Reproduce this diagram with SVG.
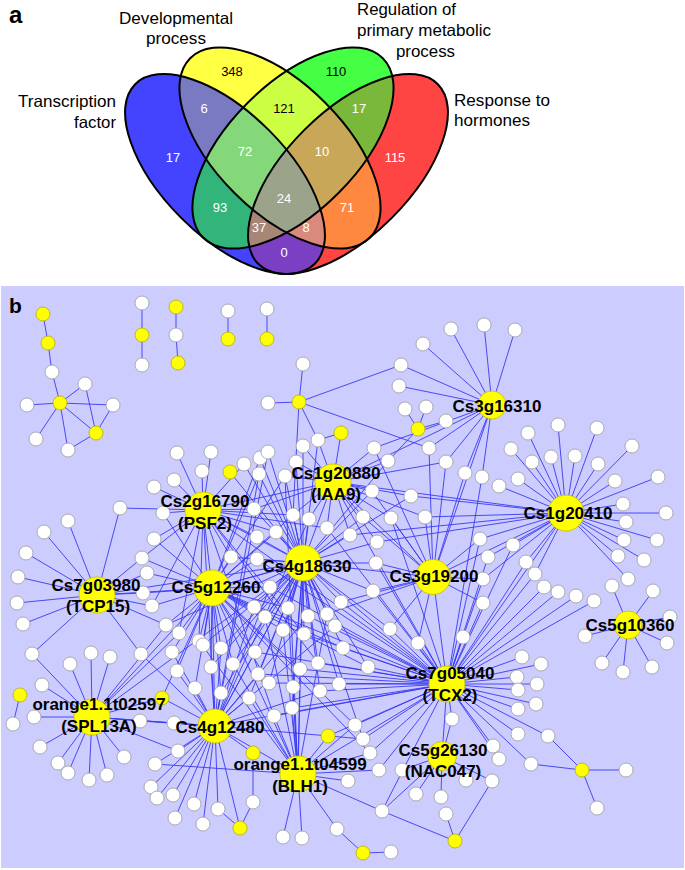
<svg xmlns="http://www.w3.org/2000/svg" xmlns:xlink="http://www.w3.org/1999/xlink" width="685" height="870" viewBox="0 0 685 870">
<style>
.e{stroke:#3a3af2;stroke-width:0.9;fill:none}
.w{fill:#fff;stroke:#9a9a9a;stroke-width:0.8}
.y{fill:#ffff00;stroke:#b0b000;stroke-width:0.8}
.h{fill:#ffff00;stroke:#c0c000;stroke-width:0.8}
.lb{font-family:"Liberation Sans",Arial,sans-serif;font-weight:bold;font-size:17px;text-anchor:middle;fill:#000}
.vl{font-family:"Liberation Sans",Arial,sans-serif;font-size:16.5px;fill:#000}
.vn{font-family:"Liberation Sans",Arial,sans-serif;font-size:13px;text-anchor:middle}
.wt{fill:#fff}
.bk{fill:#000}
.ol{fill:none;stroke:#000;stroke-width:2}
.pl{font-family:"Liberation Sans",Arial,sans-serif;font-weight:bold;fill:#000}
</style>
<defs>
<ellipse id="eA" cx="225" cy="174" rx="127" ry="62" transform="rotate(45 225 174)"/>
<ellipse id="eB" cx="280" cy="148" rx="127" ry="64" transform="rotate(45 280 148)"/>
<ellipse id="eC" cx="293" cy="148" rx="127" ry="64" transform="rotate(-45 293 148)"/>
<ellipse id="eD" cx="348" cy="174" rx="127" ry="62" transform="rotate(-45 348 174)"/>
<clipPath id="cA"><use href="#eA"/></clipPath>
<clipPath id="cB"><use href="#eB"/></clipPath>
<clipPath id="cC"><use href="#eC"/></clipPath>
</defs>
<rect width="685" height="870" fill="#fff"/>
<!-- Panel a -->
<g id="panel-a">
<text class="pl" font-size="24" x="9" y="23">a</text>
<g id="venn">
<use href="#eA" fill="#4444ff"/>
<use href="#eB" fill="#ffff44"/>
<use href="#eC" fill="#44ff44"/>
<use href="#eD" fill="#ff4444"/>
<g clip-path="url(#cA)"><use href="#eB" fill="#7a7ac2"/><use href="#eC" fill="#32b47a"/><use href="#eD" fill="#7b3fc4"/></g>
<g clip-path="url(#cB)"><use href="#eC" fill="#ccff44"/><use href="#eD" fill="#ff8840"/></g>
<g clip-path="url(#cC)"><use href="#eD" fill="#7ab83c"/></g>
<g clip-path="url(#cA)"><g clip-path="url(#cB)"><use href="#eC" fill="#84d879"/><use href="#eD" fill="#d98a7c"/></g><g clip-path="url(#cC)"><use href="#eD" fill="#a88676"/></g></g>
<g clip-path="url(#cB)"><g clip-path="url(#cC)"><use href="#eD" fill="#c8a858"/></g></g>
<g clip-path="url(#cA)"><g clip-path="url(#cB)"><g clip-path="url(#cC)"><use href="#eD" fill="#9ba38a"/></g></g></g>
<use href="#eA" class="ol"/>
<use href="#eB" class="ol"/>
<use href="#eC" class="ol"/>
<use href="#eD" class="ol"/>
</g>
<g id="venn-labels">
<text class="vl" x="119" y="24" textLength="114" lengthAdjust="spacingAndGlyphs">Developmental</text>
<text class="vl" x="146" y="44" textLength="60" lengthAdjust="spacingAndGlyphs">process</text>
<text class="vl" x="357" y="15" textLength="99" lengthAdjust="spacingAndGlyphs">Regulation of</text>
<text class="vl" x="357" y="36" textLength="134" lengthAdjust="spacingAndGlyphs">primary metabolic</text>
<text class="vl" x="396" y="57" textLength="59" lengthAdjust="spacingAndGlyphs">process</text>
<text class="vl" x="18" y="107" textLength="98" lengthAdjust="spacingAndGlyphs">Transcription</text>
<text class="vl" x="74" y="128" textLength="42" lengthAdjust="spacingAndGlyphs">factor</text>
<text class="vl" x="454" y="106" textLength="96" lengthAdjust="spacingAndGlyphs">Response to</text>
<text class="vl" x="454" y="126" textLength="76" lengthAdjust="spacingAndGlyphs">hormones</text>
</g>
<g id="venn-counts">
<text class="vn bk" x="232" y="75.7">348</text>
<text class="vn bk" x="336" y="75.7">110</text>
<text class="vn wt" x="204" y="112.7">6</text>
<text class="vn bk" x="284" y="112.7">121</text>
<text class="vn wt" x="359" y="112.7">17</text>
<text class="vn wt" x="173" y="161.7">17</text>
<text class="vn wt" x="245" y="155.7">72</text>
<text class="vn wt" x="322" y="155.7">10</text>
<text class="vn wt" x="395" y="161.7">115</text>
<text class="vn wt" x="220" y="211.7">93</text>
<text class="vn wt" x="284" y="202.7">24</text>
<text class="vn wt" x="347" y="211.7">71</text>
<text class="vn wt" x="259" y="231.7">37</text>
<text class="vn wt" x="306" y="231.7">8</text>
<text class="vn wt" x="284" y="256.7">0</text>
</g>
</g>
<!-- Panel b -->
<rect x="1" y="286" width="683" height="582" fill="#ccccff"/>
<text class="pl" font-size="21" x="9" y="313">b</text>
<g id="connectors" class="e">
<path d="M43,314L48,343L52,372L60,403M60,403L85,384L96,433M60,403L27,405M60,403L113,405L96,433M60,403L96,433M60,403L36,439M60,403L68,450L96,433M142,303L142,365M176,307L176,335L178,363M228,311L228,339M267,309L267,339"/>
<path d="M299,402L303,364M299,402L268,403M299,402L401,365M299,402L429,448M299,402L318,440M299,402L293,515M341,433L318,440M341,433L333,482M418,429L405,409M418,429L426,407M418,429L446,421M418,429L388,461"/>
<path d="M492,405L451,329M492,405L484,325M492,405L515,330M492,405L423,344M492,405L401,365M492,405L399,386M492,405L374,448M492,405L429,448M492,405L446,462M492,405L465,473M492,405L482,477M492,405L333,482M492,405L433,577"/>
<path d="M566,513L528,433M566,513L558,425M566,513L597,428M566,513L632,446M566,513L511,449M566,513L532,462M566,513L551,457M566,513L575,456M566,513L598,464M566,513L518,479M566,513L499,486M566,513L615,481M566,513L658,477M566,513L623,504M566,513L666,513M566,513L626,522M566,513L624,540M566,513L657,540M566,513L618,556M566,513L644,560M566,513L628,579M566,513L535,574M566,513L480,539M566,513L488,557M566,513L513,545M566,513L526,562M566,513L411,496M566,513L425,517M566,513L350,535M566,513L377,542M566,513L333,482M566,513L433,577M566,513L447,684M566,513L483,579"/>
<path d="M628,625L612,586M628,625L653,591M628,625L670,617M628,625L667,643M628,625L652,667M628,625L623,672M628,625L602,663M628,625L585,636"/>
<path d="M447,684L535,574M447,684L544,587M447,684L558,592M447,684L576,596M447,684L594,601M447,684L522,657M447,684L541,664M447,684L517,677M447,684L537,684M447,684L518,690M447,684L536,704M447,684L518,709M447,684L518,734M447,684L548,736M447,684L493,746M447,684L499,759M447,684L531,764M447,684L452,719M447,684L483,579M447,684L483,603M447,684L463,637M447,684L488,557M447,684L513,545M447,684L526,562M447,684L482,477M447,684L480,539M447,684L418,643M447,684L390,629M447,684L373,591M447,684L376,563M447,684L391,518M447,684L327,528M447,684L341,602M447,684L343,648M447,684L339,684M447,684L368,667M447,684L320,691M447,684L318,663M447,684L300,669M447,684L292,708M447,684L274,716M447,684L258,674M447,684L269,683M447,684L255,652M447,684L308,616M447,684L335,626M447,684L304,634M447,684L355,725M447,684L363,739M447,684L370,753M447,684L379,770M447,684L328,736M447,684L382,811M447,684L257,559M447,684L270,587M447,684L303,563M447,684L212,588M447,684L203,510M447,684L333,482M447,684L215,726M447,684L298,774M447,684L442,756M447,684L433,577"/>
<path d="M442,756L452,719M442,756L402,770M442,756L466,780M442,756L416,794M442,756L441,797M442,756L382,811M442,756L492,781M582,770L548,736M582,770L531,764M582,770L626,770M582,770L597,808M455,841L446,814M455,841L382,811M455,841L492,781M363,853L391,852M363,853L337,829M240,828L218,809M240,828L253,802L253,753M20,695L13,724"/>
<path d="M298,774L283,837M298,774L302,838M298,774L337,829M298,774L382,811M298,774L348,781M298,774L379,770M298,774L155,764M298,774L328,736M298,774L292,708M298,774L274,716M298,774L249,698M298,774L293,687M298,774L300,669M298,774L233,664M298,774L199,641M298,774L265,617M298,774L283,630M298,774L288,608M298,774L285,476M298,774L327,614M298,774L370,753M298,774L355,725M298,774L215,726M298,774L303,563M298,774L212,588"/>
<path d="M215,726L151,787M215,726L157,798M215,726L173,795M215,726L175,818M215,726L194,804M215,726L203,824M215,726L218,809M215,726L155,764M215,726L178,751M215,726L174,723M215,726L140,721M215,726L240,828M215,726L253,753M215,726L162,698M215,726L141,654M215,726L172,652M215,726L177,671M215,726L211,667M215,726L195,688M215,726L221,693M215,726L249,698M215,726L221,648M215,726L255,652M215,726L258,674M215,726L309,519M215,726L268,452M215,726L259,474M215,726L254,607M215,726L270,587M215,726L308,616M215,726L335,626M215,726L320,691M215,726L363,739M215,726L203,510M215,726L303,563M215,726L212,588"/>
<path d="M92,717L70,664M92,717L91,653M92,717L110,657M92,717L42,685M92,717L34,717M92,717L40,747M92,717L58,763M92,717L68,773M92,717L89,780M92,717L107,775M92,717L124,757M92,717L140,721M92,717L32,654M92,717L162,698M92,717L174,723M92,717L178,751M92,717L166,625M92,717L179,633M92,717L303,563M92,717L212,588M92,717L215,726"/>
<path d="M97,595L120,508M97,595L68,521M97,595L44,532M97,595L26,553M97,595L18,577M97,595L17,603M97,595L23,624M97,595L32,654M97,595L141,654M97,595L147,573M97,595L143,593M97,595L152,606M97,595L166,625M97,595L142,558M97,595L303,563M97,595L212,588"/>
<path d="M203,510L177,453M203,510L211,452M203,510L202,471M203,510L174,480M203,510L154,487M203,510L244,464M203,510L120,508M203,510L163,513M203,510L254,509M203,510L293,515M203,510L327,528M203,510L276,532M203,510L257,537M203,510L231,557M203,510L154,539M203,510L142,558M203,510L152,606M203,510L179,633M203,510L199,641M203,510L304,634M203,510L318,663M203,510L274,716M203,510L333,482M203,510L303,563M203,510L212,588"/>
<path d="M333,482L303,446M333,482L318,440M333,482L296,462M333,482L374,448M333,482L388,461M333,482L446,462M333,482L372,491M333,482L411,496M333,482L363,517M333,482L391,518M333,482L425,517M333,482L350,535M333,482L377,542M333,482L254,509M333,482L293,515M333,482L309,519M333,482L327,528M333,482L285,476M333,482L303,563M333,482L433,577"/>
<path d="M303,563L230,472M303,563L244,464M303,563L260,458M303,563L268,452M303,563L259,474M303,563L285,476M303,563L296,462M303,563L303,446M303,563L318,440M303,563L254,509M303,563L293,515M303,563L309,519M303,563L276,532M303,563L257,537M303,563L231,557M303,563L257,559M303,563L270,587M303,563L254,607M303,563L288,608M303,563L341,602M303,563L388,461M303,563L372,491M303,563L411,496M303,563L363,517M303,563L350,535M303,563L376,563M303,563L373,591M303,563L166,625M303,563L203,645M303,563L221,648M303,563L255,652M303,563L265,617M303,563L308,616M303,563L327,614M303,563L335,626M303,563L283,630M303,563L304,634M303,563L343,648M303,563L211,667M303,563L233,664M303,563L258,674M303,563L269,683M303,563L300,669M303,563L318,663M303,563L293,687M303,563L320,691M303,563L339,684M303,563L221,693M303,563L249,698M303,563L292,708M303,563L390,629M303,563L368,667M303,563L363,739M303,563L212,588"/>
<path d="M212,588L260,458M212,588L259,474M212,588L285,476M212,588L163,513M212,588L293,515M212,588L276,532M212,588L154,539M212,588L142,558M212,588L147,573M212,588L231,557M212,588L257,559M212,588L270,587M212,588L254,607M212,588L288,608M212,588L377,542M212,588L152,606M212,588L143,593M212,588L166,625M212,588L179,633M212,588L199,641M212,588L203,645M212,588L172,652M212,588L221,648M212,588L255,652M212,588L265,617M212,588L283,630M212,588L343,648M212,588L177,671M212,588L211,667M212,588L233,664M212,588L269,683M212,588L300,669M212,588L195,688M212,588L221,693M212,588L162,698M212,588L368,667M212,588L355,725M212,588L370,753"/>
<path d="M433,577L374,448M433,577L429,448M433,577L446,462M433,577L465,473M433,577L372,491M433,577L363,517M433,577L391,518M433,577L425,517M433,577L376,563M433,577L373,591M433,577L341,602M433,577L480,539M433,577L483,579M433,577L483,603M433,577L390,629M433,577L418,643M433,577L327,614M433,577L303,563"/>
</g>
<g id="small-nodes">
<g id="n1"><circle class="y" cx="43" cy="314" r="7"/></g>
<g id="n2"><circle class="y" cx="48" cy="343" r="7"/></g>
<g id="n3"><circle class="w" cx="52" cy="372" r="7"/></g>
<g id="n4"><circle class="w" cx="85" cy="384" r="7"/></g>
<g id="n5"><circle class="y" cx="60" cy="403" r="7"/></g>
<g id="n6"><circle class="w" cx="27" cy="405" r="7"/></g>
<g id="n7"><circle class="w" cx="113" cy="405" r="7"/></g>
<g id="n8"><circle class="y" cx="96" cy="433" r="7"/></g>
<g id="n9"><circle class="w" cx="36" cy="439" r="7"/></g>
<g id="n10"><circle class="w" cx="68" cy="450" r="7"/></g>
<g id="n11"><circle class="w" cx="142" cy="303" r="7"/></g>
<g id="n12"><circle class="y" cx="142" cy="335" r="7"/></g>
<g id="n13"><circle class="w" cx="142" cy="365" r="7"/></g>
<g id="n14"><circle class="y" cx="176" cy="307" r="7"/></g>
<g id="n15"><circle class="w" cx="176" cy="335" r="7"/></g>
<g id="n16"><circle class="y" cx="178" cy="363" r="7"/></g>
<g id="n17"><circle class="w" cx="228" cy="311" r="7"/></g>
<g id="n18"><circle class="y" cx="228" cy="339" r="7"/></g>
<g id="n19"><circle class="w" cx="267" cy="309" r="7"/></g>
<g id="n20"><circle class="y" cx="267" cy="339" r="7"/></g>
<g id="n21"><circle class="w" cx="303" cy="364" r="7"/></g>
<g id="n22"><circle class="y" cx="299" cy="402" r="7"/></g>
<g id="n23"><circle class="w" cx="268" cy="403" r="7"/></g>
<g id="n24"><circle class="y" cx="341" cy="433" r="7"/></g>
<g id="n25"><circle class="y" cx="418" cy="429" r="7"/></g>
<g id="n26"><circle class="w" cx="405" cy="409" r="7"/></g>
<g id="n27"><circle class="w" cx="426" cy="407" r="7"/></g>
<g id="n28"><circle class="w" cx="446" cy="421" r="7"/></g>
<g id="n29"><circle class="w" cx="451" cy="329" r="7"/></g>
<g id="n30"><circle class="w" cx="484" cy="325" r="7"/></g>
<g id="n31"><circle class="w" cx="515" cy="330" r="7"/></g>
<g id="n32"><circle class="w" cx="423" cy="344" r="7"/></g>
<g id="n33"><circle class="w" cx="401" cy="365" r="7"/></g>
<g id="n34"><circle class="w" cx="399" cy="386" r="7"/></g>
<g id="n35"><circle class="w" cx="528" cy="433" r="7"/></g>
<g id="n36"><circle class="w" cx="558" cy="425" r="7"/></g>
<g id="n37"><circle class="w" cx="597" cy="428" r="7"/></g>
<g id="n38"><circle class="w" cx="632" cy="446" r="7"/></g>
<g id="n39"><circle class="w" cx="511" cy="449" r="7"/></g>
<g id="n40"><circle class="w" cx="532" cy="462" r="7"/></g>
<g id="n41"><circle class="w" cx="551" cy="457" r="7"/></g>
<g id="n42"><circle class="w" cx="575" cy="456" r="7"/></g>
<g id="n43"><circle class="w" cx="598" cy="464" r="7"/></g>
<g id="n44"><circle class="w" cx="518" cy="479" r="7"/></g>
<g id="n45"><circle class="w" cx="499" cy="486" r="7"/></g>
<g id="n46"><circle class="w" cx="615" cy="481" r="7"/></g>
<g id="n47"><circle class="w" cx="658" cy="477" r="7"/></g>
<g id="n48"><circle class="w" cx="623" cy="504" r="7"/></g>
<g id="n49"><circle class="w" cx="666" cy="513" r="7"/></g>
<g id="n50"><circle class="w" cx="626" cy="522" r="7"/></g>
<g id="n51"><circle class="w" cx="624" cy="540" r="7"/></g>
<g id="n52"><circle class="w" cx="657" cy="540" r="7"/></g>
<g id="n53"><circle class="w" cx="618" cy="556" r="7"/></g>
<g id="n54"><circle class="w" cx="644" cy="560" r="7"/></g>
<g id="n55"><circle class="w" cx="628" cy="579" r="7"/></g>
<g id="n56"><circle class="w" cx="612" cy="586" r="7"/></g>
<g id="n57"><circle class="w" cx="653" cy="591" r="7"/></g>
<g id="n58"><circle class="w" cx="670" cy="617" r="7"/></g>
<g id="n59"><circle class="w" cx="667" cy="643" r="7"/></g>
<g id="n60"><circle class="w" cx="652" cy="667" r="7"/></g>
<g id="n61"><circle class="w" cx="623" cy="672" r="7"/></g>
<g id="n62"><circle class="w" cx="602" cy="663" r="7"/></g>
<g id="n63"><circle class="w" cx="585" cy="636" r="7"/></g>
<g id="n64"><circle class="w" cx="535" cy="574" r="7"/></g>
<g id="n65"><circle class="w" cx="544" cy="587" r="7"/></g>
<g id="n66"><circle class="w" cx="558" cy="592" r="7"/></g>
<g id="n67"><circle class="w" cx="576" cy="596" r="7"/></g>
<g id="n68"><circle class="w" cx="594" cy="601" r="7"/></g>
<g id="n69"><circle class="w" cx="522" cy="657" r="7"/></g>
<g id="n70"><circle class="w" cx="541" cy="664" r="7"/></g>
<g id="n71"><circle class="w" cx="517" cy="677" r="7"/></g>
<g id="n72"><circle class="w" cx="537" cy="684" r="7"/></g>
<g id="n73"><circle class="w" cx="518" cy="690" r="7"/></g>
<g id="n74"><circle class="w" cx="536" cy="704" r="7"/></g>
<g id="n75"><circle class="w" cx="518" cy="709" r="7"/></g>
<g id="n76"><circle class="w" cx="518" cy="734" r="7"/></g>
<g id="n77"><circle class="w" cx="548" cy="736" r="7"/></g>
<g id="n78"><circle class="w" cx="493" cy="746" r="7"/></g>
<g id="n79"><circle class="w" cx="499" cy="759" r="7"/></g>
<g id="n80"><circle class="w" cx="531" cy="764" r="7"/></g>
<g id="n81"><circle class="w" cx="452" cy="719" r="7"/></g>
<g id="n82"><circle class="y" cx="582" cy="770" r="7"/></g>
<g id="n83"><circle class="w" cx="626" cy="770" r="7"/></g>
<g id="n84"><circle class="w" cx="597" cy="808" r="7"/></g>
<g id="n85"><circle class="w" cx="402" cy="770" r="7"/></g>
<g id="n86"><circle class="w" cx="466" cy="780" r="7"/></g>
<g id="n87"><circle class="w" cx="416" cy="794" r="7"/></g>
<g id="n88"><circle class="w" cx="441" cy="797" r="7"/></g>
<g id="n89"><circle class="w" cx="492" cy="781" r="7"/></g>
<g id="n90"><circle class="w" cx="446" cy="814" r="7"/></g>
<g id="n91"><circle class="y" cx="455" cy="841" r="7"/></g>
<g id="n92"><circle class="w" cx="382" cy="811" r="7"/></g>
<g id="n93"><circle class="y" cx="363" cy="853" r="7"/></g>
<g id="n94"><circle class="w" cx="391" cy="852" r="7"/></g>
<g id="n95"><circle class="w" cx="337" cy="829" r="7"/></g>
<g id="n96"><circle class="w" cx="283" cy="837" r="7"/></g>
<g id="n97"><circle class="w" cx="302" cy="838" r="7"/></g>
<g id="n98"><circle class="w" cx="348" cy="781" r="7"/></g>
<g id="n99"><circle class="w" cx="379" cy="770" r="7"/></g>
<g id="n100"><circle class="w" cx="355" cy="725" r="7"/></g>
<g id="n101"><circle class="w" cx="363" cy="739" r="7"/></g>
<g id="n102"><circle class="w" cx="370" cy="753" r="7"/></g>
<g id="n103"><circle class="y" cx="328" cy="736" r="7"/></g>
<g id="n104"><circle class="w" cx="390" cy="629" r="7"/></g>
<g id="n105"><circle class="w" cx="418" cy="643" r="7"/></g>
<g id="n106"><circle class="w" cx="463" cy="637" r="7"/></g>
<g id="n107"><circle class="w" cx="368" cy="667" r="7"/></g>
<g id="n108"><circle class="w" cx="374" cy="448" r="7"/></g>
<g id="n109"><circle class="w" cx="388" cy="461" r="7"/></g>
<g id="n110"><circle class="w" cx="429" cy="448" r="7"/></g>
<g id="n111"><circle class="w" cx="446" cy="462" r="7"/></g>
<g id="n112"><circle class="w" cx="465" cy="473" r="7"/></g>
<g id="n113"><circle class="w" cx="482" cy="477" r="7"/></g>
<g id="n114"><circle class="w" cx="372" cy="491" r="7"/></g>
<g id="n115"><circle class="w" cx="411" cy="496" r="7"/></g>
<g id="n116"><circle class="w" cx="363" cy="517" r="7"/></g>
<g id="n117"><circle class="w" cx="391" cy="518" r="7"/></g>
<g id="n118"><circle class="w" cx="425" cy="517" r="7"/></g>
<g id="n119"><circle class="w" cx="350" cy="535" r="7"/></g>
<g id="n120"><circle class="w" cx="377" cy="542" r="7"/></g>
<g id="n121"><circle class="w" cx="376" cy="563" r="7"/></g>
<g id="n122"><circle class="w" cx="373" cy="591" r="7"/></g>
<g id="n123"><circle class="w" cx="480" cy="539" r="7"/></g>
<g id="n124"><circle class="w" cx="488" cy="557" r="7"/></g>
<g id="n125"><circle class="w" cx="513" cy="545" r="7"/></g>
<g id="n126"><circle class="w" cx="526" cy="562" r="7"/></g>
<g id="n127"><circle class="w" cx="483" cy="579" r="7"/></g>
<g id="n128"><circle class="w" cx="483" cy="603" r="7"/></g>
<g id="n129"><circle class="w" cx="177" cy="453" r="7"/></g>
<g id="n130"><circle class="w" cx="211" cy="452" r="7"/></g>
<g id="n131"><circle class="w" cx="202" cy="471" r="7"/></g>
<g id="n132"><circle class="w" cx="174" cy="480" r="7"/></g>
<g id="n133"><circle class="w" cx="154" cy="487" r="7"/></g>
<g id="n134"><circle class="y" cx="230" cy="472" r="7"/></g>
<g id="n135"><circle class="w" cx="244" cy="464" r="7"/></g>
<g id="n136"><circle class="w" cx="260" cy="458" r="7"/></g>
<g id="n137"><circle class="w" cx="268" cy="452" r="7"/></g>
<g id="n138"><circle class="w" cx="259" cy="474" r="7"/></g>
<g id="n139"><circle class="w" cx="285" cy="476" r="7"/></g>
<g id="n140"><circle class="w" cx="296" cy="462" r="7"/></g>
<g id="n141"><circle class="w" cx="303" cy="446" r="7"/></g>
<g id="n142"><circle class="w" cx="318" cy="440" r="7"/></g>
<g id="n143"><circle class="w" cx="163" cy="513" r="7"/></g>
<g id="n144"><circle class="w" cx="254" cy="509" r="7"/></g>
<g id="n145"><circle class="w" cx="293" cy="515" r="7"/></g>
<g id="n146"><circle class="w" cx="309" cy="519" r="7"/></g>
<g id="n147"><circle class="w" cx="327" cy="528" r="7"/></g>
<g id="n148"><circle class="w" cx="276" cy="532" r="7"/></g>
<g id="n149"><circle class="w" cx="257" cy="537" r="7"/></g>
<g id="n150"><circle class="w" cx="154" cy="539" r="7"/></g>
<g id="n151"><circle class="w" cx="142" cy="558" r="7"/></g>
<g id="n152"><circle class="w" cx="147" cy="573" r="7"/></g>
<g id="n153"><circle class="w" cx="231" cy="557" r="7"/></g>
<g id="n154"><circle class="w" cx="257" cy="559" r="7"/></g>
<g id="n155"><circle class="w" cx="270" cy="587" r="7"/></g>
<g id="n156"><circle class="w" cx="254" cy="607" r="7"/></g>
<g id="n157"><circle class="w" cx="288" cy="608" r="7"/></g>
<g id="n158"><circle class="w" cx="341" cy="602" r="7"/></g>
<g id="n159"><circle class="w" cx="152" cy="606" r="7"/></g>
<g id="n160"><circle class="w" cx="143" cy="593" r="7"/></g>
<g id="n161"><circle class="w" cx="120" cy="508" r="7"/></g>
<g id="n162"><circle class="w" cx="68" cy="521" r="7"/></g>
<g id="n163"><circle class="w" cx="44" cy="532" r="7"/></g>
<g id="n164"><circle class="w" cx="26" cy="553" r="7"/></g>
<g id="n165"><circle class="w" cx="18" cy="577" r="7"/></g>
<g id="n166"><circle class="w" cx="17" cy="603" r="7"/></g>
<g id="n167"><circle class="w" cx="23" cy="624" r="7"/></g>
<g id="n168"><circle class="w" cx="32" cy="654" r="7"/></g>
<g id="n169"><circle class="w" cx="141" cy="654" r="7"/></g>
<g id="n170"><circle class="w" cx="166" cy="625" r="7"/></g>
<g id="n171"><circle class="w" cx="179" cy="633" r="7"/></g>
<g id="n172"><circle class="w" cx="199" cy="641" r="7"/></g>
<g id="n173"><circle class="w" cx="203" cy="645" r="7"/></g>
<g id="n174"><circle class="w" cx="172" cy="652" r="7"/></g>
<g id="n175"><circle class="w" cx="221" cy="648" r="7"/></g>
<g id="n176"><circle class="w" cx="255" cy="652" r="7"/></g>
<g id="n177"><circle class="w" cx="265" cy="617" r="7"/></g>
<g id="n178"><circle class="w" cx="308" cy="616" r="7"/></g>
<g id="n179"><circle class="w" cx="327" cy="614" r="7"/></g>
<g id="n180"><circle class="w" cx="335" cy="626" r="7"/></g>
<g id="n181"><circle class="w" cx="283" cy="630" r="7"/></g>
<g id="n182"><circle class="w" cx="304" cy="634" r="7"/></g>
<g id="n183"><circle class="w" cx="343" cy="648" r="7"/></g>
<g id="n184"><circle class="w" cx="177" cy="671" r="7"/></g>
<g id="n185"><circle class="w" cx="211" cy="667" r="7"/></g>
<g id="n186"><circle class="w" cx="233" cy="664" r="7"/></g>
<g id="n187"><circle class="w" cx="258" cy="674" r="7"/></g>
<g id="n188"><circle class="w" cx="269" cy="683" r="7"/></g>
<g id="n189"><circle class="w" cx="300" cy="669" r="7"/></g>
<g id="n190"><circle class="w" cx="318" cy="663" r="7"/></g>
<g id="n191"><circle class="w" cx="293" cy="687" r="7"/></g>
<g id="n192"><circle class="w" cx="320" cy="691" r="7"/></g>
<g id="n193"><circle class="w" cx="339" cy="684" r="7"/></g>
<g id="n194"><circle class="w" cx="195" cy="688" r="7"/></g>
<g id="n195"><circle class="w" cx="221" cy="693" r="7"/></g>
<g id="n196"><circle class="w" cx="249" cy="698" r="7"/></g>
<g id="n197"><circle class="w" cx="292" cy="708" r="7"/></g>
<g id="n198"><circle class="w" cx="274" cy="716" r="7"/></g>
<g id="n199"><circle class="y" cx="162" cy="698" r="7"/></g>
<g id="n200"><circle class="w" cx="140" cy="721" r="7"/></g>
<g id="n201"><circle class="w" cx="174" cy="723" r="7"/></g>
<g id="n202"><circle class="w" cx="178" cy="751" r="7"/></g>
<g id="n203"><circle class="y" cx="253" cy="753" r="7"/></g>
<g id="n204"><circle class="w" cx="155" cy="764" r="7"/></g>
<g id="n205"><circle class="w" cx="70" cy="664" r="7"/></g>
<g id="n206"><circle class="w" cx="91" cy="653" r="7"/></g>
<g id="n207"><circle class="w" cx="110" cy="657" r="7"/></g>
<g id="n208"><circle class="w" cx="42" cy="685" r="7"/></g>
<g id="n209"><circle class="y" cx="20" cy="695" r="7"/></g>
<g id="n210"><circle class="w" cx="13" cy="724" r="7"/></g>
<g id="n211"><circle class="w" cx="34" cy="717" r="7"/></g>
<g id="n212"><circle class="w" cx="40" cy="747" r="7"/></g>
<g id="n213"><circle class="w" cx="58" cy="763" r="7"/></g>
<g id="n214"><circle class="w" cx="68" cy="773" r="7"/></g>
<g id="n215"><circle class="w" cx="89" cy="780" r="7"/></g>
<g id="n216"><circle class="w" cx="107" cy="775" r="7"/></g>
<g id="n217"><circle class="w" cx="124" cy="757" r="7"/></g>
<g id="n218"><circle class="w" cx="151" cy="787" r="7"/></g>
<g id="n219"><circle class="w" cx="157" cy="798" r="7"/></g>
<g id="n220"><circle class="w" cx="173" cy="795" r="7"/></g>
<g id="n221"><circle class="w" cx="175" cy="818" r="7"/></g>
<g id="n222"><circle class="w" cx="194" cy="804" r="7"/></g>
<g id="n223"><circle class="w" cx="203" cy="824" r="7"/></g>
<g id="n224"><circle class="w" cx="218" cy="809" r="7"/></g>
<g id="n225"><circle class="y" cx="240" cy="828" r="7"/></g>
<g id="n226"><circle class="w" cx="253" cy="802" r="7"/></g>
</g>
<g id="hubs">
<g id="Cs3g16310"><circle class="h" cx="492" cy="405" r="14"/><text class="lb" x="497" y="412">Cs3g16310</text></g>
<g id="Cs1g20410"><circle class="h" cx="566" cy="513" r="18"/><text class="lb" x="568" y="519">Cs1g20410</text></g>
<g id="Cs1g20880"><circle class="h" cx="333" cy="482" r="18"/><text class="lb" x="336" y="479">Cs1g20880</text><text class="lb" x="336" y="500">(IAA9)</text></g>
<g id="Cs2g16790"><circle class="h" cx="203" cy="510" r="18"/><text class="lb" x="205" y="507">Cs2g16790</text><text class="lb" x="205" y="529">(PSF2)</text></g>
<g id="Cs4g18630"><circle class="h" cx="303" cy="563" r="18"/><text class="lb" x="307" y="572">Cs4g18630</text></g>
<g id="Cs5g12260"><circle class="h" cx="212" cy="588" r="18"/><text class="lb" x="216" y="593">Cs5g12260</text></g>
<g id="Cs7g03980"><circle class="h" cx="97" cy="595" r="18"/><text class="lb" x="96" y="591">Cs7g03980</text><text class="lb" x="98" y="612">(TCP15)</text></g>
<g id="Cs3g19200"><circle class="h" cx="433" cy="577" r="17.5"/><text class="lb" x="434" y="582">Cs3g19200</text></g>
<g id="Cs5g10360"><circle class="h" cx="628" cy="625" r="14"/><text class="lb" x="630" y="631">Cs5g10360</text></g>
<g id="Cs7g05040"><circle class="h" cx="447" cy="684" r="18"/><text class="lb" x="450" y="679">Cs7g05040</text><text class="lb" x="450" y="701">(TCX2)</text></g>
<g id="Cs5g26130"><circle class="h" cx="442" cy="756" r="14.5"/><text class="lb" x="443" y="756">Cs5g26130</text><text class="lb" x="443" y="777">(NAC047)</text></g>
<g id="orange1_1t02597"><circle class="h" cx="92" cy="717" r="18"/><text class="lb" x="99" y="710">orange1.1t02597</text><text class="lb" x="99" y="732">(SPL13A)</text></g>
<g id="Cs4g12480"><circle class="h" cx="215" cy="726" r="17"/><text class="lb" x="220" y="733">Cs4g12480</text></g>
<g id="orange1_1t04599"><circle class="h" cx="298" cy="774" r="18"/><text class="lb" x="300" y="770">orange1.1t04599</text><text class="lb" x="300" y="792">(BLH1)</text></g>
</g>
</svg>
